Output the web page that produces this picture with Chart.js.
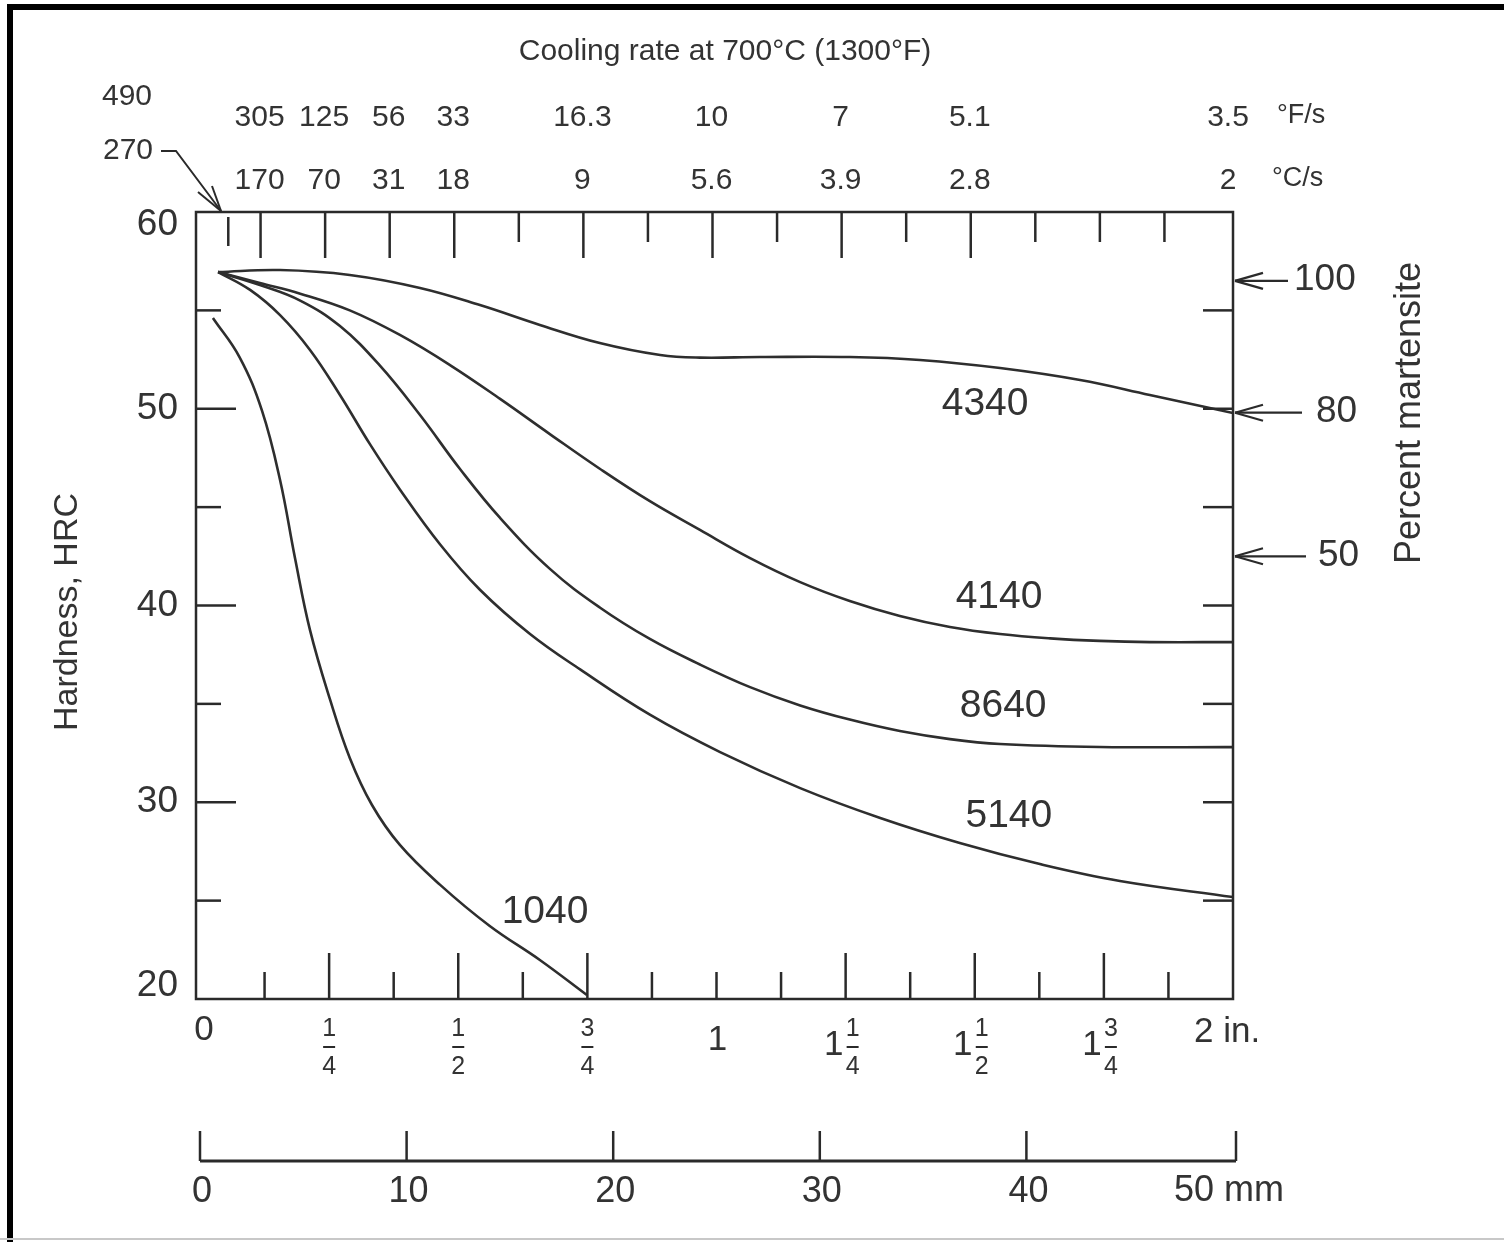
<!DOCTYPE html>
<html>
<head>
<meta charset="utf-8">
<script src="https://cdn.jsdelivr.net/npm/chart.js@4.4.1/dist/chart.umd.min.js"></script>
<style>
  html, body { margin: 0; padding: 0; background: #fff; }
</style>
</head>
<body>
<canvas id="chart" width="1504" height="1242"></canvas>
<script>
// Jominy distance from quenched end (in.) and hardness (HRC)
const dist4340 = [0.035, 0.155, 0.29, 0.426, 0.542, 0.658, 0.774, 0.891, 0.968, 1.084, 1.258, 1.394, 1.549, 1.704, 1.839, 2.0];
const hrc4340  = [56.95, 57.05, 56.8, 56.14, 55.27, 54.26, 53.34, 52.73, 52.6, 52.63, 52.63, 52.48, 52.07, 51.46, 50.7, 49.78];

const dist4140 = [0.035, 0.116, 0.194, 0.29, 0.387, 0.484, 0.581, 0.678, 0.774, 0.871, 0.968, 1.065, 1.162, 1.258, 1.355, 1.452, 1.549, 1.646, 1.742, 1.839, 2.0];
const hrc4140  = [56.95, 56.39, 55.85, 55.0, 53.75, 52.22, 50.5, 48.7, 46.95, 45.3, 43.84, 42.41, 41.19, 40.23, 39.47, 38.91, 38.55, 38.33, 38.2, 38.14, 38.14];

const dist8640 = [0.035, 0.116, 0.194, 0.271, 0.348, 0.426, 0.503, 0.581, 0.678, 0.774, 0.871, 0.968, 1.065, 1.162, 1.258, 1.355, 1.452, 1.549, 1.742, 2.0];
const hrc8640  = [56.95, 56.29, 55.5, 54.2, 52.2, 49.68, 46.95, 44.45, 41.85, 39.9, 38.3, 37.0, 35.85, 34.92, 34.2, 33.62, 33.21, 32.96, 32.81, 32.8];

const dist5140 = [0.035, 0.097, 0.155, 0.213, 0.271, 0.329, 0.387, 0.465, 0.542, 0.639, 0.736, 0.871, 1.007, 1.162, 1.317, 1.471, 1.626, 1.781, 2.0];
const hrc5140  = [56.95, 56.04, 54.76, 52.99, 50.7, 48.2, 45.9, 43.1, 40.8, 38.55, 36.75, 34.45, 32.55, 30.72, 29.2, 27.93, 26.86, 26.0, 25.18];

const dist1040 = [0.025, 0.077, 0.12, 0.155, 0.184, 0.213, 0.252, 0.29, 0.333, 0.387, 0.465, 0.561, 0.658, 0.749];
const hrc1040  = [54.61, 52.6, 49.9, 46.38, 42.4, 38.75, 35.2, 32.25, 29.86, 27.83, 25.8, 23.71, 21.98, 20.2];

const steels = ["4340", "4140", "8640", "5140", "1040"];
const steelDist = [dist4340, dist4140, dist8640, dist5140, dist1040];
const steelHrc = [hrc4340, hrc4140, hrc8640, hrc5140, hrc1040];
// where each steel name sits (in., HRC)
const nameDist = [1.52, 1.547, 1.555, 1.566, 0.668];
const nameHrc = [50.24, 40.43, 34.89, 29.3, 24.42];

// cooling rate at 700°C for the Jominy positions
const rateDist = [0.125, 0.25, 0.375, 0.5, 0.75, 1, 1.25, 1.5, 2];
const rateF = ["305", "125", "56", "33", "16.3", "10", "7", "5.1", "3.5"];
const rateC = ["170", "70", "31", "18", "9", "5.6", "3.9", "2.8", "2"];

// percent martensite marks on the hardness scale
const martPct = ["100", "80", "50"];
const martHrc = [56.5, 49.8, 42.5];

const hrcTicks = [60, 50, 40, 30, 20];
const inTicks = [0, 0.25, 0.5, 0.75, 1, 1.25, 1.5, 1.75, 2];
const inWhole = ["0", "", "", "", "1", "1", "1", "1", "2 in."];
const inNum = ["", "1", "1", "3", "", "1", "1", "3", ""];
const inDen = ["", "4", "2", "4", "", "4", "2", "4", ""];
const mmTicks = [0, 10, 20, 30, 40, 50];

const FONT = '"Liberation Sans", Arial, sans-serif';
const INK = '#333';

function line(ctx, x1, y1, x2, y2) {
  ctx.beginPath();
  ctx.moveTo(x1, y1);
  ctx.lineTo(x2, y2);
  ctx.stroke();
}

function text(ctx, s, x, y, size, align) {
  ctx.font = size + 'px ' + FONT;
  ctx.textAlign = align || 'center';
  ctx.textBaseline = 'middle';
  ctx.fillText(s, x, y);
}

const decor = {
  id: 'decor',
  afterDraw(chart) {
    const ctx = chart.ctx;
    const xs = chart.scales.x, ys = chart.scales.y, mm = chart.scales.xmm;
    const a = chart.chartArea;
    ctx.save();

    // picture frame
    ctx.fillStyle = '#000';
    ctx.fillRect(7, 4, 1497, 6);
    ctx.fillRect(7, 4, 6, 1238);
    ctx.fillStyle = '#c8c8c8';
    ctx.fillRect(0, 1238, 1504, 2);

    ctx.strokeStyle = '#2a2a2a';
    ctx.fillStyle = INK;
    ctx.lineWidth = 2.5;
    ctx.strokeRect(a.left - 4, a.top, a.right - a.left + 4, a.bottom - a.top);

    // left and right ticks
    for (let v = 25; v <= 55; v += 5) {
      const y = ys.getPixelForValue(v);
      line(ctx, a.left - 4, y, a.left - 4 + (v % 10 === 0 ? 40 : 25), y);
      line(ctx, a.right, y, a.right - 30, y);
    }
    // bottom ticks every 1/8 in.
    for (let i = 1; i < 16; i++) {
      const x = xs.getPixelForValue(i / 8);
      const long = [2, 4, 6, 10, 12, 14].includes(i);
      line(ctx, x, a.bottom, x, a.bottom - (long ? 46 : 27));
    }
    // top ticks
    const topLong = [1, 2, 3, 4, 6, 8, 10, 12];
    line(ctx, xs.getPixelForValue(1 / 16) - 4, a.top + 5, xs.getPixelForValue(1 / 16) - 4, a.top + 34);
    for (let i = 1; i < 16; i++) {
      const x = xs.getPixelForValue(i / 8) - 4;
      line(ctx, x, a.top, x, a.top + (topLong.includes(i) ? 46 : 30));
    }

    // hardness labels
    ctx.fillStyle = INK;
    hrcTicks.forEach(v => {
      let y = ys.getPixelForValue(v);
      if (v === 60) y += 13;
      if (v === 20) y -= 13;
      text(ctx, String(v), 178, y, 37, 'right');
    });
    ctx.save();
    ctx.translate(68, 612);
    ctx.rotate(-Math.PI / 2);
    text(ctx, 'Hardness, HRC', 0, 0, 34);
    ctx.restore();

    // distance labels in inches
    inTicks.forEach((v, i) => {
      const x = xs.getPixelForValue(v);
      if (inNum[i]) {
        let fx = x;
        if (inWhole[i]) {
          text(ctx, inWhole[i], x - 12, 1045, 35);
          fx = x + 7;
        }
        text(ctx, inNum[i], fx, 1029, 25);
        ctx.lineWidth = 2;
        line(ctx, fx - 6, 1047, fx + 6, 1047);
        text(ctx, inDen[i], fx, 1067, 25);
      } else if (v === 2) {
        text(ctx, inWhole[i], x - 39, 1032, 35, 'left');
      } else if (v === 0) {
        text(ctx, inWhole[i], x + 4, 1030, 35);
      } else {
        text(ctx, inWhole[i], x + 1, 1040, 35);
      }
    });

    // millimetre scale
    ctx.lineWidth = 3;
    ctx.strokeStyle = '#2a2a2a';
    const y0 = 1161;
    line(ctx, mm.getPixelForValue(0), y0, mm.getPixelForValue(50) + 3, y0);
    ctx.lineWidth = 2.5;
    mmTicks.forEach(v => {
      const x = mm.getPixelForValue(v) + (v === 50 ? 3 : 0);
      line(ctx, x, y0, x, y0 - 30);
      if (v === 50) text(ctx, '50 mm', x - 62, 1191, 36, 'left');
      else text(ctx, String(v), x + 2, 1192, 36);
    });

    // cooling rate scale on top
    text(ctx, 'Cooling rate at 700\u00B0C (1300\u00B0F)', 725, 52, 30);
    rateDist.forEach((d, i) => {
      const x = xs.getPixelForValue(d) - 5;
      text(ctx, rateF[i], x, 118, 30);
      text(ctx, rateC[i], x, 181, 30);
    });
    text(ctx, '\u00B0F/s', 1277, 116, 27, 'left');
    text(ctx, '\u00B0C/s', 1272, 179, 27, 'left');
    text(ctx, '490', 127, 97, 30);
    text(ctx, '270', 128, 151, 30);
    ctx.lineWidth = 2;
    ctx.beginPath();
    ctx.moveTo(161, 151);
    ctx.lineTo(176, 151);
    ctx.lineTo(221, a.top - 1);
    ctx.stroke();
    line(ctx, 221, a.top - 1, 198, 192);
    line(ctx, 221, a.top - 1, 212, 186);

    // percent martensite scale
    martHrc.forEach((h, i) => {
      const y = ys.getPixelForValue(h);
      const end = [1288, 1302, 1306][i];
      ctx.lineWidth = 2.2;
      line(ctx, a.right + 2, y, end, y);
      line(ctx, a.right + 2, y, a.right + 30, y - 8);
      line(ctx, a.right + 2, y, a.right + 30, y + 8);
      const lx = [1294, 1316, 1318][i];
      text(ctx, martPct[i], lx, y - 1, 37, 'left');
    });
    ctx.save();
    ctx.translate(1410, 413);
    ctx.rotate(-Math.PI / 2);
    text(ctx, 'Percent martensite', 0, 0, 36);
    ctx.restore();

    // steel names
    steels.forEach((s, i) => {
      text(ctx, s, xs.getPixelForValue(nameDist[i]), ys.getPixelForValue(nameHrc[i]), 39);
    });

    ctx.restore();
  }
};

new Chart(document.getElementById('chart').getContext('2d'), {
  type: 'line',
  data: {
    datasets: steels.map((s, i) => ({
      label: s,
      data: steelDist[i].map((d, j) => ({ x: d, y: steelHrc[i][j] })),
      borderColor: '#2e2e2e',
      borderWidth: 2.6,
      pointRadius: 0,
      fill: false,
      tension: 0.4
    }))
  },
  options: {
    responsive: false,
    animation: false,
    events: [],
    layout: { padding: { left: 200, right: 271, top: 212, bottom: 243 } },
    plugins: { legend: { display: false }, tooltip: { enabled: false } },
    scales: {
      x: { type: 'linear', min: 0, max: 2, display: false },
      y: { type: 'linear', min: 20, max: 60, display: false },
      xmm: { type: 'linear', axis: 'x', min: 0, max: 50, display: false }
    }
  },
  plugins: [decor]
});
</script>
</body>
</html>
